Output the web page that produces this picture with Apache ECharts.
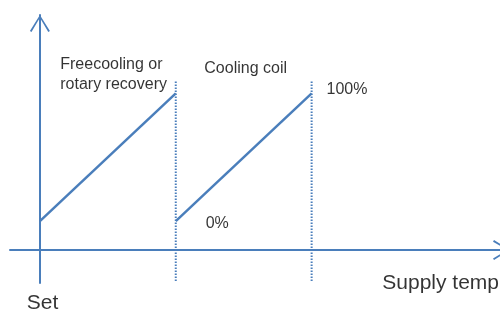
<!DOCTYPE html>
<html>
<head>
<meta charset="utf-8">
<title>Supply temperature control</title>
<script src="https://cdn.jsdelivr.net/npm/echarts@6/dist/echarts.min.js"></script>
<style>
  html, body { margin: 0; padding: 0; background: #fff; }
  #myChart { width: 500px; height: 311px; }
</style>
</head>
<body>
<div id="myChart"></div>
<script>
// stages along the supply temperature axis (setpoint at 0)
var freecoolingLine = [[0, 18.5], [10, 100]]
var coolingLine = [[10, 18.5], [20, 100]]
var dividerX = [10, 20]
var dividerY = [-19.7, 108.5]

// annotation texts and where they sit (data units)
var labelTexts = ['Freecooling or\nrotary recovery', 'Cooling coil', '100%', '0%', 'Set', 'Supply temp']
var labelX = [1.5, 12.1, 21.1, 12.2, 0.2, 25.2]
var labelY = [112, 115.5, 102.3, 17, -34, -21.3]
var labelSize = [16, 16, 16, 16, 21, 21]
var labelAlign = ['left', 'left', 'left', 'left', 'center', 'left']

var blue = '#4a7ebb'
var arrow = 'path://M10,0L20,16L18.4,17L10,2.8L1.6,17L0,16Z'

var myChart = echarts.init(document.getElementById('myChart'))

var dividers = dividerX.map(function (x) {
  return {
    type: 'line',
    data: [[x, dividerY[0]], [x, dividerY[1]]],
    symbol: 'none',
    silent: true,
    lineStyle: { color: blue, width: 2, type: [1.5, 1.5] }
  }
})

var labels = labelTexts.map(function (t, i) {
  return {
    value: [labelX[i], labelY[i]],
    label: {
      show: true,
      formatter: t,
      position: 'inside',
      align: labelAlign[i],
      verticalAlign: 'middle',
      fontSize: labelSize[i],
      lineHeight: labelSize[i] === 16 ? 20 : 24,
      color: '#000',
      fontFamily: 'Liberation Sans, Arial, sans-serif'
    }
  }
})

myChart.setOption({
  animation: false,
  // the x axis runs past the right edge, so its arrow tip is cut off
  grid: { left: 10, width: 500, top: 15, height: 268, outerBoundsMode: 'none' },
  xAxis: {
    type: 'value',
    min: -2.2,
    max: 34.6,
    splitLine: { show: false },
    axisTick: { show: false },
    axisLabel: { show: false },
    axisLine: {
      onZero: true,
      symbol: ['none', arrow],
      symbolSize: [20, 17],
      symbolOffset: [0, -8.5],
      lineStyle: { color: blue, width: 2 }
    }
  },
  yAxis: {
    type: 'value',
    min: -21,
    max: 150,
    splitLine: { show: false },
    axisTick: { show: false },
    axisLabel: { show: false },
    axisLine: {
      onZero: true,
      symbol: ['none', arrow],
      symbolSize: [20, 17],
      symbolOffset: [0, -8.5],
      lineStyle: { color: blue, width: 2 }
    }
  },
  series: dividers.concat([
    {
      type: 'line',
      data: freecoolingLine,
      symbol: 'none',
      lineStyle: { color: blue, width: 2.5 }
    },
    {
      type: 'line',
      data: coolingLine,
      symbol: 'none',
      lineStyle: { color: blue, width: 2.5 }
    },
    {
      type: 'scatter',
      data: labels,
      symbolSize: 0,
      clip: false,
      silent: true
    }
  ])
})
</script>
</body>
</html>
